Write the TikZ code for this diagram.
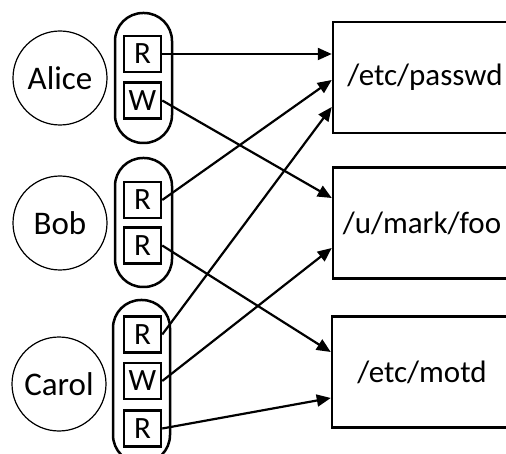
\documentclass[tikz,border=0pt]{standalone}
\usepackage{fontspec}
\setmainfont{Carlito}
\usetikzlibrary{arrows.meta}
\begin{document}
\begin{tikzpicture}[x=1pt,y=-1pt,
  person/.style={circle, draw, line width=1.2pt, minimum size=94pt, inner sep=0pt, font=\fontsize{33}{38}\selectfont},
  capsule/.style={draw, line width=2.5pt, rounded corners=28pt, minimum width=57pt, inner sep=0pt},
  perm/.style={draw, line width=2.5pt, minimum width=37pt, minimum height=36pt, inner sep=0pt, font=\fontsize{31}{36}\selectfont},
  file/.style={draw, line width=2.5pt, minimum height=111pt, inner sep=0pt, font=\fontsize{31}{37}\selectfont},
  arr/.style={line width=2.2pt, -{Triangle[length=14pt,width=12pt]}}]
\useasboundingbox (0,0) rectangle (506,454);
\clip (0,0) rectangle (506,454);

% people
\node[person] (alice) at (60,78) {Alice};
\node[person] (bob) at (60,223) {Bob};
\node[person] (carol) at (59,384) {Carol};

% capabilities lists
\node[capsule, minimum height=130pt] (acap) at (143.5,78) {};
\node[capsule, minimum height=129pt] (bcap) at (143.5,222.5) {};
\node[capsule, minimum height=163pt] (ccap) at (141.5,381.5) {};

\node[perm] (ar) at (142.5,54) {R};
\node[perm] (aw) at (142.5,100.5) {W};
\node[perm] (br1) at (142.5,200) {R};
\node[perm] (br2) at (142.5,245.5) {R};
\node[perm] (cr1) at (142.5,334.5) {R};
\node[perm] (cw) at (142.5,381) {W};
\node[perm] (cr2) at (142.5,428.5) {R};

% files
\node[file, minimum width=184pt] (passwd) at (425,77.5) {/etc/passwd};
\node[file, minimum width=178pt] (foo) at (422,223) {/u/mark/foo};
\node[file, minimum width=180pt] (motd) at (422,372) {/etc/motd};

% arrows
\draw[arr] (ar.east) -- ([yshift=23.5pt]passwd.west);
\draw[arr] (br1.east) -- ([yshift=-2.5pt]passwd.west);
\draw[arr] (cr1.east) -- ([yshift=-29.5pt]passwd.west);
\draw[arr] (aw.east) -- ([yshift=25pt]foo.west);
\draw[arr] (cw.east) -- ([yshift=-25pt]foo.west);
\draw[arr] (br2.east) -- ([yshift=20pt]motd.west);
\draw[arr] (cr2.east) -- ([yshift=-26pt]motd.west);
\end{tikzpicture}
\end{document}
